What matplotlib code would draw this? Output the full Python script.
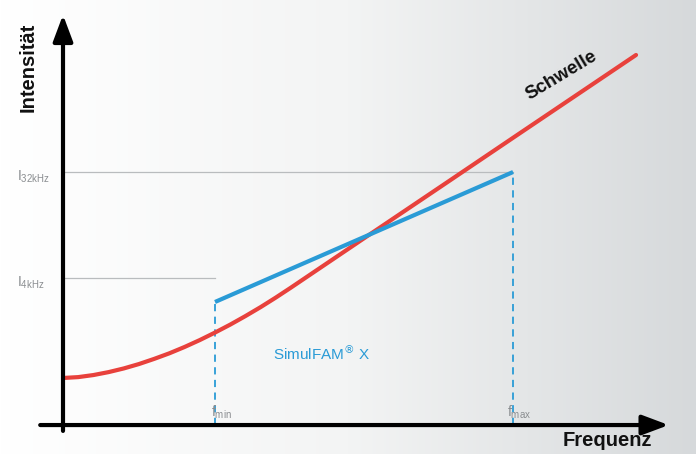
import numpy as np
import matplotlib
matplotlib.use("Agg")
import matplotlib.pyplot as plt
from matplotlib.colors import LinearSegmentedColormap

# ---- data (arbitrary units: frequency, intensity) ----
thr_f = [0.0, 0.1, 0.2, 0.3, 0.4, 0.5, 0.6, 0.7, 0.8, 0.9, 1.0, 1.1, 1.2, 1.3, 1.4,
         1.5, 2.0, 2.5, 3.0, 3.5, 3.77]
thr_I = [0.320, 0.326, 0.340, 0.360, 0.385, 0.415, 0.450, 0.488, 0.531, 0.578, 0.629,
         0.683, 0.741, 0.802, 0.867, 0.935, 1.284, 1.632, 1.981, 2.329, 2.517]
f_min, f_max = 1.0, 2.961
sim_f = [f_min, f_max]
sim_I = [0.837, 1.721]
I_4k, I_32k = 1.0, 1.721
tick_labels_I = [r"$\mathregular{I_{4kHz}}$", r"$\mathregular{I_{32kHz}}$"]
tick_labels_f = [r"$\mathregular{f_{min}}$", r"$\mathregular{f_{max}}$"]

plt.rcParams['font.family'] = ['Liberation Sans', 'DejaVu Sans']

fig = plt.figure(figsize=(6.96, 4.54), dpi=100)
ax = fig.add_axes([0, 0, 1, 1])
xlim = (-0.4145, 4.1645)
ylim = (-0.197, 2.891)
ax.set_xlim(*xlim)
ax.set_ylim(*ylim)
ax.axis('off')

# background gradient white -> gray
cmap = LinearSegmentedColormap.from_list('bg', ['#ffffff', '#f3f4f4', '#d6d9db'])
grad = np.linspace(0, 1, 256).reshape(1, -1)
ax.imshow(grad, extent=[xlim[0], xlim[1], ylim[0], ylim[1]], aspect='auto',
          cmap=cmap, zorder=0)

red = '#e8413c'
blue = '#2a9bd6'

# reference lines
ax.plot([0, f_min], [I_4k, I_4k], color='#b9bcbe', lw=0.9, zorder=1)
ax.plot([0, f_max], [I_32k, I_32k], color='#b9bcbe', lw=0.9, zorder=1)
ax.plot([f_min, f_min], [0, sim_I[0]], color=blue, lw=1.3, ls=(0, (4, 3)), zorder=2)
ax.plot([f_max, f_max], [0, sim_I[1]], color=blue, lw=1.3, ls=(0, (4, 3)), zorder=2)

# curves
ax.plot(thr_f, thr_I, color=red, lw=3, solid_capstyle='round', solid_joinstyle='round', zorder=3)
ax.plot(sim_f, sim_I, color=blue, lw=3, solid_capstyle='butt', zorder=4)

# axes arrows
ap = dict(arrowstyle='-|>,head_length=1.6,head_width=0.6', lw=3, color='black',
          shrinkA=0, shrinkB=0)
ax.annotate('', xy=(0, 2.79), xytext=(0, -0.04), arrowprops=ap, zorder=5)
ax.annotate('', xy=(3.985, 0), xytext=(-0.15, 0), arrowprops=ap, zorder=5)

# axis titles
ax.text(-0.23, 2.435, 'Intensität', rotation=90, ha='center', va='center',
        fontsize=14.5, fontweight='bold', color='#111111')
ax.text(3.58, -0.105, 'Frequenz', ha='center', va='center',
        fontsize=14.5, fontweight='bold', color='#111111')
ax.text(3.28, 2.38, 'Schwelle', rotation=31, ha='center', va='center',
        fontsize=13.5, fontweight='bold', color='#111111')
ax.text(1.7, 0.485, 'SimulFAM$^{\\circledR}$ X', ha='center', va='center',
        fontsize=11, color=blue)

# tick labels
gray = '#8a8d90'
ax.text(-0.30, I_4k - 0.03, tick_labels_I[0], ha='left', va='center', fontsize=10, color=gray)
ax.text(-0.30, I_32k - 0.03, tick_labels_I[1], ha='left', va='center', fontsize=10, color=gray)
ax.text(f_min + 0.04, 0.09, tick_labels_f[0], ha='center', va='center', fontsize=10, color=gray)
ax.text(f_max + 0.04, 0.09, tick_labels_f[1], ha='center', va='center', fontsize=10, color=gray)

fig.savefig('out.png', dpi=100)
